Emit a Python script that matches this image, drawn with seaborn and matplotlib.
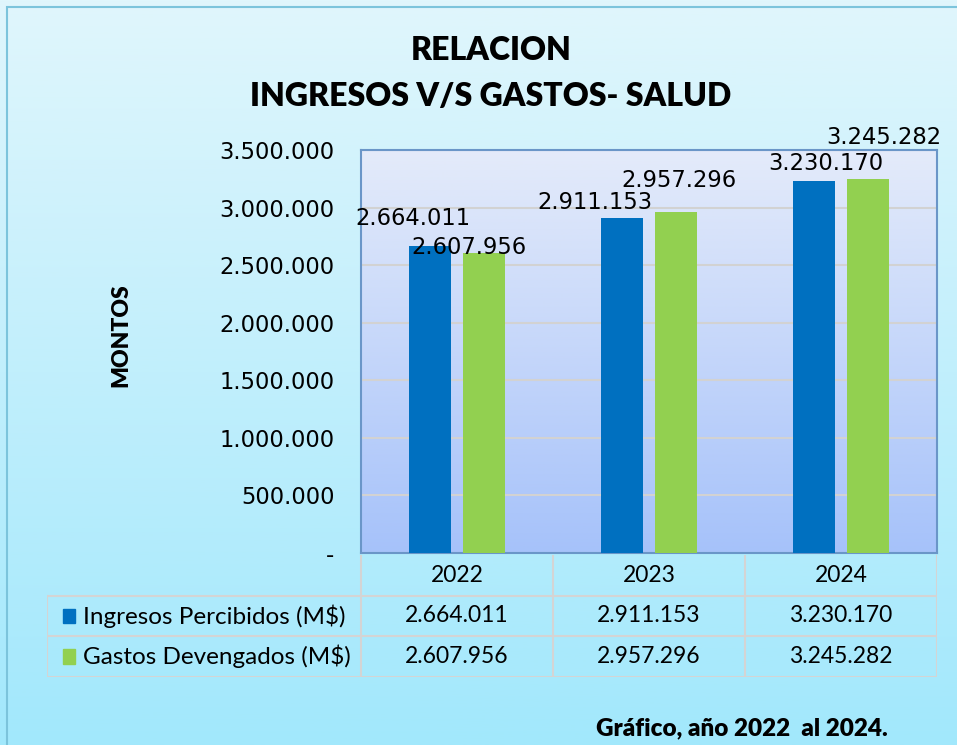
import numpy as np
import pandas as pd
import seaborn as sns
import matplotlib.pyplot as plt
from matplotlib.colors import LinearSegmentedColormap
from matplotlib.lines import Line2D
from matplotlib.patches import Rectangle
from matplotlib.transforms import blended_transform_factory

# data
years = ['2022', '2023', '2024']
series = ['Ingresos Percibidos (M$)', 'Gastos Devengados (M$)']
ingresos = [2664011, 2911153, 3230170]
gastos = [2607956, 2957296, 3245282]
colors = ['#0070c0', '#92d050']
y_ticks = [0, 500000, 1000000, 1500000, 2000000, 2500000, 3000000, 3500000]

def fmt(v):
    return '-' if v == 0 else f'{v:,.0f}'.replace(',', '.')

df = pd.DataFrame({
    'anio': years * 2,
    'serie': [series[0]] * 3 + [series[1]] * 3,
    'monto': ingresos + gastos,
})

sns.set_style('white')
plt.rcParams['font.family'] = ['Lato', 'DejaVu Sans']
plt.rcParams['text.color'] = 'black'
plt.rcParams['ytick.color'] = 'black'
plt.rcParams['axes.labelcolor'] = 'black'

W, H = 957, 745
fig = plt.figure(figsize=(W / 100, H / 100), dpi=100)

# background gradient of the whole chart area
bg = fig.add_axes([0, 0, 1, 1], zorder=-10)
grad = np.linspace(0, 1, 256).reshape(-1, 1)
bg.imshow(grad, cmap=LinearSegmentedColormap.from_list('bg', ['#e0f6fc', '#a2e8fc']),
          aspect='auto', extent=[0, 1, 0, 1])
bg.set_xlim(0, 1); bg.set_ylim(0, 1); bg.axis('off')
fig.patches.append(Rectangle((7 / W, -0.1), 1.2, (H - 7) / H + 0.1, transform=fig.transFigure,
                             fill=False, edgecolor='#7cc4dc', lw=1.5))

# main plot
ax = fig.add_axes([361 / W, (H - 553) / H, 576 / W, 403 / H])
pa = np.linspace(0, 1, 256).reshape(-1, 1)
ax.imshow(pa, cmap=LinearSegmentedColormap.from_list('pa', ['#a6c2fa', '#e4ebfa']),
          aspect='auto', extent=[0, 1, 0, 1], origin='lower', transform=ax.transAxes, zorder=0)

sns.barplot(data=df, x='anio', y='monto', hue='serie', palette=colors,
            width=0.56, gap=0.21, saturation=1, legend=False, ax=ax, zorder=3, linewidth=0)
ax.set_xlim(-0.5, 2.5)
ax.set_ylim(0, 3500000)
ax.set_yticks(y_ticks)
ax.set_yticklabels([fmt(v) for v in y_ticks], fontsize=16.3, family='DejaVu Sans')
ax.tick_params(axis='y', length=0, pad=19)
ax.set_xticks([])
ax.set_xlabel('')
ax.set_ylabel('MONTOS', fontsize=16.5, fontweight='heavy')
ax.yaxis.set_label_coords(-0.398, 0.541)
ax.yaxis.grid(True, color='#d2d2d2', lw=1.5, zorder=1)
ax.set_axisbelow(True)
for s in ax.spines.values():
    s.set_color('#6a96c8')
    s.set_linewidth(1.5)

# data labels, moved around like in the original
offsets = [[(-17, 28), (-27, 15), (12, 18)], [(-15, 5), (3, 32), (16, 42)]]
for cont, offs in zip(ax.containers, offsets):
    for bar, off in zip(cont, offs):
        v = bar.get_height()
        ax.annotate(fmt(v), (bar.get_x() + bar.get_width() / 2, v),
                    xytext=off, textcoords='offset pixels', ha='center', va='center',
                    fontsize=16.3, family='DejaVu Sans', zorder=5, annotation_clip=False)

# data table under the plot
tab = fig.add_axes([47 / W, (H - 677) / H, 890 / W, 122 / H])
tab.set_ylim(3, 0)
tab.axis('off')
tr = blended_transform_factory(ax.transData, tab.transData)
tr_left = blended_transform_factory(tab.transAxes, tab.transData)
gc = '#d4d4d4'
for x in [-0.5, 0.5, 1.5, 2.5]:
    tab.add_line(Line2D([x, x], [0, 3], transform=tr, color=gc, lw=1.5))
tab.add_line(Line2D([0, 0], [1, 3], color=gc, lw=1.5))
for y in [1, 2, 3]:
    tab.add_line(Line2D([0, 1], [y, y], transform=tr_left, color=gc, lw=1.5))
for i, yr in enumerate(years):
    tab.text(i, 0.5, yr, transform=tr, ha='center', va='center', fontsize=16.5)
for r, (name, vals, col) in enumerate(zip(series, [ingresos, gastos], colors)):
    tab.add_patch(Rectangle((0.018, r + 1.32), 0.014, 0.36, color=col, transform=tr_left))
    tab.text(0.04, r + 1.5, name, ha='left', va='center', fontsize=17.5, transform=tr_left)
    for i, v in enumerate(vals):
        tab.text(i, r + 1.5, fmt(v), transform=tr, ha='center', va='center', fontsize=16.5)

fig.text(491 / W, 1 - 50 / H, 'RELACION', ha='center', va='center', fontsize=23, fontweight='heavy')
fig.text(491 / W, 1 - 97 / H, 'INGRESOS V/S GASTOS- SALUD', ha='center', va='center',
         fontsize=23, fontweight='heavy')
fig.text(888 / W, 1 - 728 / H, 'Gráfico, año 2022  al 2024.', ha='right', va='center',
         fontsize=17.5, fontweight='heavy')

fig.savefig('out.png', dpi=100)
